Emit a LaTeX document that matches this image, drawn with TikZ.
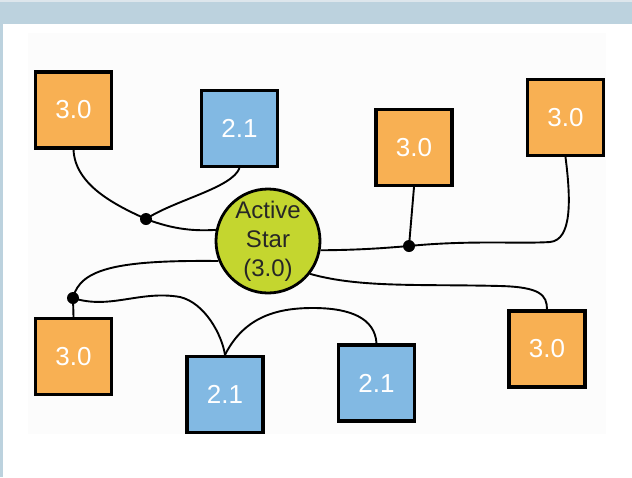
\documentclass[tikz,border=0pt]{standalone}
\usepackage{fontspec}
\setmainfont{Liberation Sans}
\definecolor{band}{HTML}{BCD2DE}
\definecolor{bandlight}{HTML}{DDE6EC}
\definecolor{orangebox}{HTML}{F8B053}
\definecolor{bluebox}{HTML}{82B9E3}
\definecolor{starfill}{HTML}{C4D62F}
\definecolor{panel}{HTML}{FCFCFC}
\tikzset{
  obox/.style={draw=black, line width=3.2pt, fill=orangebox, minimum width=76pt, minimum height=76pt,
    text=white, font=\fontsize{26}{30}\selectfont, inner sep=0pt},
  bbox/.style={obox, fill=bluebox},
  star/.style={circle, draw=black, line width=2.8pt, fill=starfill, minimum size=104pt, inner sep=0pt,
    align=center, text=black!85, font=\fontsize{24}{29}\selectfont},
  wire/.style={draw=black, line width=1.9pt},
  junction/.style={fill=black}
}
\begin{document}
\begin{tikzpicture}[x=1pt,y=-1pt]
\useasboundingbox (0,0) rectangle (632,477);
\fill[white] (0,0) rectangle (632,477);
\fill[panel] (28,33) rectangle (606,434);
\fill[bandlight] (0,0) rectangle (632,2);
\fill[band] (0,2) rectangle (632,24);
\fill[band] (0,24) rectangle (3,477);

\node[obox] (A) at (73.5,110) {3.0};
\node[bbox] (B) at (239.5,128.5) {2.1};
\node[obox] (C) at (414,147.5) {3.0};
\node[obox] (D) at (565.5,117.5) {3.0};
\node[obox] (E) at (73.5,356.5) {3.0};
\node[bbox] (F) at (225,394.5) {2.1};
\node[bbox] (G) at (376.5,383) {2.1};
\node[obox] (H) at (547,349) {3.0};

\coordinate (J1) at (146,219);
\coordinate (J2) at (409,246);
\coordinate (J3) at (73,298);

% wires
\draw[wire] (A.south) .. controls (75,185) and (115,205) .. (J1);
\draw[wire] (B.south) .. controls (232,188) and (175,200) .. (J1);
\draw[wire] (C.south) -- (J2);
\draw[wire] (J3) -- (E.north);
\draw[wire] (J2) .. controls (470,240) and (520,244) .. (550,242) .. controls (572,240) and (571,200) .. (D.south);
\draw[wire] (J3) .. controls (110,310) and (140,290) .. (180,297) .. controls (205,303) and (222,335) .. (F.north);
\draw[wire] (F.north) .. controls (245,315) and (280,308) .. (313,308) .. controls (350,308) and (375,318) .. (G.north);

\node[star] (S) at (268,241) {Active\\Star\\(3.0)};

\draw[wire] (J1) .. controls (175,230) and (195,231) .. (S.168);
\draw[wire] (S.-10) .. controls (360,250) and (385,248) .. (J2);
\draw[wire] (S.202) .. controls (120,260) and (80,268) .. (J3);
\draw[wire] (S.-38) .. controls (360,288) and (420,284) .. (500,286) .. controls (540,287) and (547,295) .. (H.north);

\fill[junction] (J1) circle (6pt);
\fill[junction] (J2) circle (6pt);
\fill[junction] (J3) circle (6pt);
\end{tikzpicture}
\end{document}
